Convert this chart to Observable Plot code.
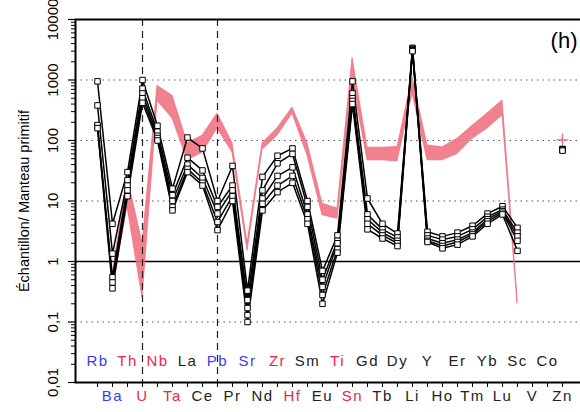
<!DOCTYPE html>
<html><head><meta charset="utf-8">
<script src="https://cdn.jsdelivr.net/npm/d3@7"></script>
<script src="https://cdn.jsdelivr.net/npm/@observablehq/plot@0.6"></script>
<style>
html,body{margin:0;padding:0;background:#fff;overflow:hidden;}
svg{display:block;max-width:none !important;}
</style>
</head><body><div id="chart"></div>
<script>
const elements = ["Rb","Ba","Th","U","Nb","Ta","La","Ce","Pb","Pr","Sr","Nd","Zr","Hf","Sm","Eu","Ti","Sn","Gd","Tb","Dy","Li","Y","Ho","Er","Tm","Yb","Lu","Sc","V","Co","Zn"];
const blueElements = ["Rb","Ba","Pb","Sr"];
const redElements = ["Th","U","Nb","Ta","Zr","Hf","Ti","Sn"];

const sample1 = [950,4.2,30,1000,175,16,112,74,10,38,0.33,25,56,74,10,0.7,2.7,950,11,4.2,2.9,3400,3.1,2.6,3.0,3.9,6.2,8.2,3.6,null,null,72];
const sample2 = [380,1.35,22,720,140,12.5,52,32,8,18,0.23,15,42,60,8,0.5,2.2,600,6,3.4,2.5,3300,2.7,2.3,2.6,3.4,5.5,7.2,3.0,null,null,72];
const sample3 = [170,0.55,18,600,120,10,40,24,6.2,15,0.17,11,26,36,6,0.38,2.0,500,5,3.0,2.2,3200,2.4,2.0,2.3,3.0,5.0,6.8,2.6,null,null,70];
const sample4 = [180,0.45,15,500,110,8,34,20,4.5,12,0.13,9,18,26,5,0.28,1.6,450,4.2,2.7,2.0,3100,2.2,1.8,2.1,2.8,4.6,6.4,2.2,null,null,70];
const sample5 = [160,0.36,12,420,100,7,30,18,3.3,10,0.1,7,14,20,4.2,0.2,1.4,400,3.4,2.4,1.8,3000,2.1,1.65,1.9,2.6,4.2,6.0,1.5,null,null,68];

const bandHigh = [null,0.6,25,2,800,550,90,120,280,90,2,90,160,350,90,9,7.5,2300,76,76,78,1100,83,77,107,175,280,460,0.25,null,null,110];
const bandLow  = [null,0.35,8,0.25,450,230,47,63,158,63,1.5,70,120,280,56,5.8,5.1,1000,47,47,45,600,47,47,60,107,158,260,0.2,null,null,95];

const yTickValues = [0.01,0.1,1,10,100,1000,10000];
const yTickLabels = ["0,01","0,1","1","10","100","1000","10000"];
const gridValues = [0.1,10,100,1000];
const dashedAt = ["U","Pb"];
const yTitle = "Échantillon/ Manteau primitif";
const panelLabel = "(h)";

const samples = [sample1,sample2,sample3,sample4,sample5];
const lineData = samples.flatMap((arr,s)=>arr.map((v,i)=>({el:elements[i], v, s})));
const bandData = elements.map((el,i)=>({el, hi:bandHigh[i], lo:bandLow[i]}));
const znBand = bandData.filter(d=>d.el==="Zn").map(d=>({el:d.el, v:Math.sqrt(d.hi*d.lo)}));
const minorTicks = [];
for (let e=-2;e<4;e++) for (let k=2;k<10;k++) minorTicks.push(k*Math.pow(10,e));
const colorOf = d => blueElements.includes(d) ? "#3b3bf0" : redElements.includes(d) ? "#f0234f" : "#222";
const red = "#f06b7b";

const plot = Plot.plot({
  width: 590, height: 412,
  marginTop: 19, marginBottom: 30, marginLeft: 75, marginRight: 0,
  x: {type:"point", domain: elements, range:[94,564.5], padding:0},
  y: {type:"log", domain:[0.01,10000]},
  style: {fontFamily:"'Liberation Sans', Arial, sans-serif", fontSize:"15px", background:"white", color:"black"},
  marks: [
    Plot.ruleY(gridValues, {stroke:"#555", strokeDasharray:"1.5,4", strokeWidth:1}),
    Plot.ruleY([1], {stroke:"black", strokeWidth:1.6}),
    Plot.areaY(bandData, {x:"el", y1:"lo", y2:"hi", fill:red, fillOpacity:0.85, stroke:red, strokeWidth:0.8, strokeOpacity:0.9}),
    Plot.dot(znBand, {x:"el", y:"v", symbol:"plus", r:4, stroke:red, strokeWidth:1.2}),
    Plot.ruleX(dashedAt, {x:d=>d, stroke:"#222", strokeDasharray:"7,5", strokeWidth:1.2}),
    Plot.line(lineData, {x:"el", y:"v", z:"s", stroke:"black", strokeWidth:1.5}),
    Plot.dot(lineData.filter(d=>d.v!=null), {x:"el", y:"v", symbol:"square", r:3.1, fill:"white", stroke:"black", strokeWidth:1}),
    Plot.frame({stroke:"black", strokeWidth:2}),
    Plot.axisY({ticks:yTickValues, tickSize:7, tickFormat:()=>"", label:null, strokeWidth:1.2}),
    Plot.axisY({ticks:minorTicks, tickSize:4, tickFormat:()=>"", label:null}),
    Plot.axisX({tickSize:5, tickFormat:()=>"", label:null}),
    Plot.text(yTickValues, {y:d=>d, text:(d,i)=>yTickLabels[i], frameAnchor:"left", textAnchor:"middle", lineAnchor:"middle", dx:-22, rotate:-90, fontSize:15}),
    Plot.text([yTitle], {frameAnchor:"left", textAnchor:"middle", lineAnchor:"middle", dx:-51, rotate:-90, fontSize:14.5}),
    Plot.text(elements.filter((d,i)=>i%2===0), {x:d=>d, text:d=>d, frameAnchor:"bottom", dy:-17, fill:colorOf, fontSize:15}),
    Plot.text(elements.filter((d,i)=>i%2===1), {x:d=>d, text:d=>d, frameAnchor:"bottom", dy:18, fill:colorOf, fontSize:15}),
    Plot.text([panelLabel], {frameAnchor:"top-right", dx:-13, dy:13, fontSize:22})
  ]
});
document.getElementById("chart").appendChild(plot);
d3.select(plot).selectAll("text").filter(function(){ return elements.includes(this.textContent); }).style("letter-spacing","1.5px");
</script>
</body></html>
